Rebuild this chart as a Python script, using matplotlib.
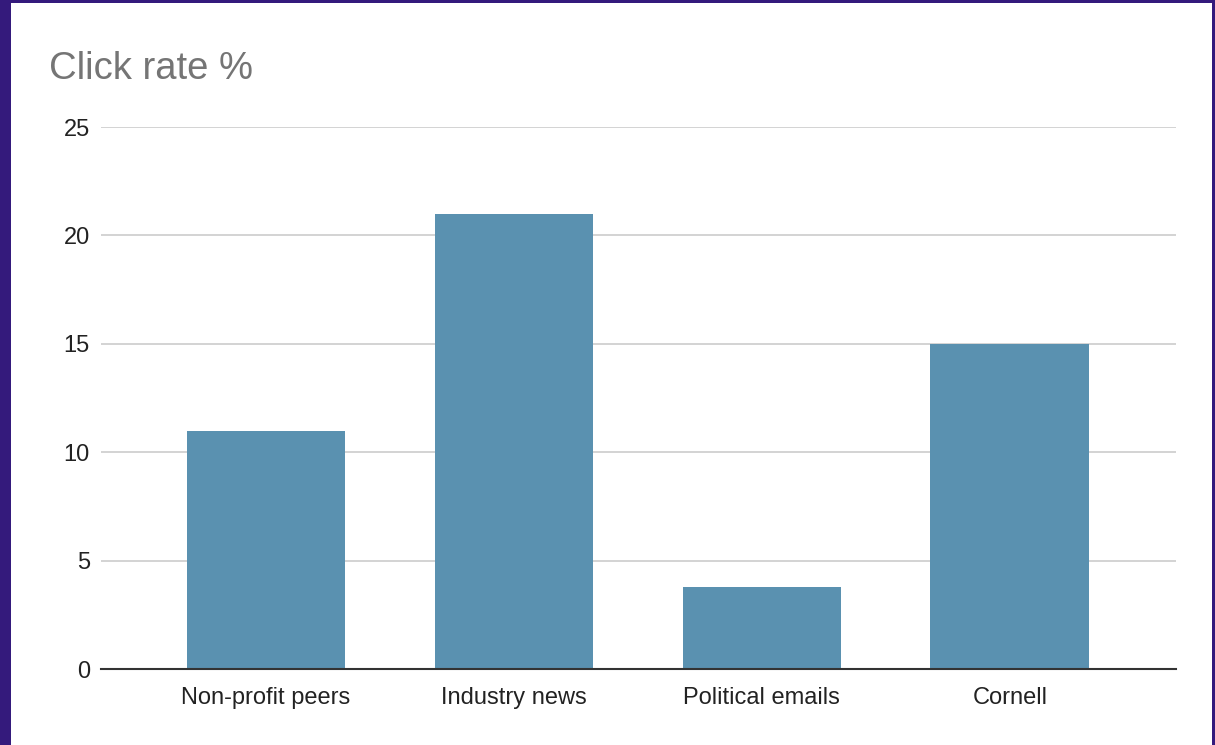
import numpy as np
import matplotlib
matplotlib.use('Agg')
import matplotlib.pyplot as plt

plt.rcParams['font.family'] = ['Liberation Sans', 'DejaVu Sans']

categories = ['Non-profit peers', 'Industry news', 'Political emails', 'Cornell']
click_rate = [11, 21, 3.8, 15]
yticks = [0, 5, 10, 15, 20, 25]

fig = plt.figure(figsize=(12.15, 7.45), dpi=100, facecolor='#341a7c')
# white panel inside purple frame
panel = fig.add_axes([11 / 1215, 0, (1215 - 11 - 3) / 1215, (745 - 3) / 745])
panel.set_facecolor('white')
panel.set_xticks([])
panel.set_yticks([])
for s in panel.spines.values():
    s.set_visible(False)

ax = fig.add_axes([101 / 1215, (745 - 669) / 745, (1176 - 101) / 1215, (669 - 127) / 745])
ax.set_facecolor('none')
x = np.arange(len(categories))
ax.bar(x, click_rate, width=0.64, color='#5a91b0', zorder=3)
ax.set_xlim(-0.665, 3.67)
ax.set_ylim(0, 25)
ax.set_yticks(yticks)
ax.set_xticks(x)
ax.set_xticklabels(categories)
ax.grid(axis='y', color='#cccccc', linewidth=1.2, zorder=0)
for side in ['top', 'right', 'left']:
    ax.spines[side].set_visible(False)
ax.spines['bottom'].set_color('#333333')
ax.spines['bottom'].set_linewidth(1.5)
ax.spines['bottom'].set_zorder(4)
ax.tick_params(axis='both', length=0, labelsize=17, colors='#222222')
ax.tick_params(axis='y', pad=8)
ax.tick_params(axis='x', pad=13)

fig.text(49 / 1215, 1 - 69 / 745, 'Click rate %', fontsize=27.5, color='#757575',
         va='center', ha='left')

fig.savefig('out.png', dpi=100, facecolor=fig.get_facecolor())
